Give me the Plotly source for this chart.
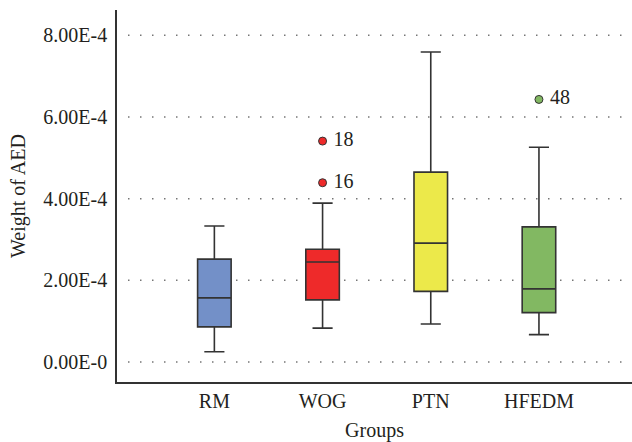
import plotly.graph_objects as go

groups = ["RM", "WOG", "PTN", "HFEDM"]
lower_whisker = [0.25e-4, 0.83e-4, 0.93e-4, 0.67e-4]
q1 = [0.86e-4, 1.52e-4, 1.73e-4, 1.21e-4]
median = [1.57e-4, 2.45e-4, 2.91e-4, 1.79e-4]
q3 = [2.52e-4, 2.76e-4, 4.65e-4, 3.31e-4]
upper_whisker = [3.33e-4, 3.89e-4, 7.59e-4, 5.26e-4]
colors = ["#7390C8", "#EE2A2A", "#ECE94A", "#82B862"]

outlier_group = ["WOG", "WOG", "HFEDM"]
outlier_value = [5.41e-4, 4.39e-4, 6.43e-4]
outlier_label = ["18", "16", "48"]
outlier_color = ["#EE2A2A", "#EE2A2A", "#82B862"]

tick_vals = [0, 2e-4, 4e-4, 6e-4, 8e-4]
tick_text = ["0.00E-0", "2.00E-4", "4.00E-4", "6.00E-4", "8.00E-4"]

FONT = "Liberation Serif"
TXT = "#231F20"
FS = 20

fig = go.Figure()
for i, g in enumerate(groups):
    fig.add_trace(go.Box(
        x=[g], q1=[q1[i]], median=[median[i]], q3=[q3[i]],
        lowerfence=[lower_whisker[i]], upperfence=[upper_whisker[i]],
        fillcolor=colors[i], line=dict(color="#333333", width=1.6),
        width=0.31, whiskerwidth=0.6, boxpoints=False, showlegend=False,
        hoverinfo="skip",
    ))

fig.add_trace(go.Scatter(
    x=outlier_group, y=outlier_value, mode="markers+text",
    text=["\u00a0" + t for t in outlier_label], textposition="middle right",
    textfont=dict(family=FONT, size=FS, color=TXT),
    marker=dict(color=outlier_color, size=8, line=dict(color="#333333", width=1)),
    showlegend=False, hoverinfo="skip",
))

for v in tick_vals:
    fig.add_shape(type="line", xref="paper", yref="y", x0=0.022, x1=0.99,
                  y0=v, y1=v, line=dict(color="#333333", width=1.5, dash="1px,11px"),
                  layer="below")

fig.update_layout(
    width=632, height=442,
    margin=dict(l=117, r=0, t=10, b=60, autoexpand=False),
    paper_bgcolor="white", plot_bgcolor="white",
    font=dict(family=FONT, size=FS, color=TXT),
    xaxis=dict(
        type="category", categoryorder="array", categoryarray=groups,
        range=[-0.9, 3.86], showgrid=False, zeroline=False,
        showline=True, linecolor="#333333", linewidth=1.6,
        ticks="", automargin=False, tickfont=dict(family=FONT, size=FS, color=TXT),
        title=dict(text="Groups", font=dict(family=FONT, size=FS, color=TXT), standoff=14),
    ),
    yaxis=dict(
        range=[-0.49e-4, 8.62e-4], tickvals=tick_vals, ticktext=tick_text,
        showgrid=False, zeroline=False, showline=True, linecolor="#333333",
        linewidth=1.6, ticks="", ticklabelstandoff=4, automargin=False,
        tickfont=dict(family=FONT, size=FS, color=TXT),
        title=dict(text="Weight of AED", font=dict(family=FONT, size=FS, color=TXT), standoff=12),
    ),
)

fig.write_html("out.html", config={"displayModeBar": False},
               post_script="document.body.style.margin='0';")
